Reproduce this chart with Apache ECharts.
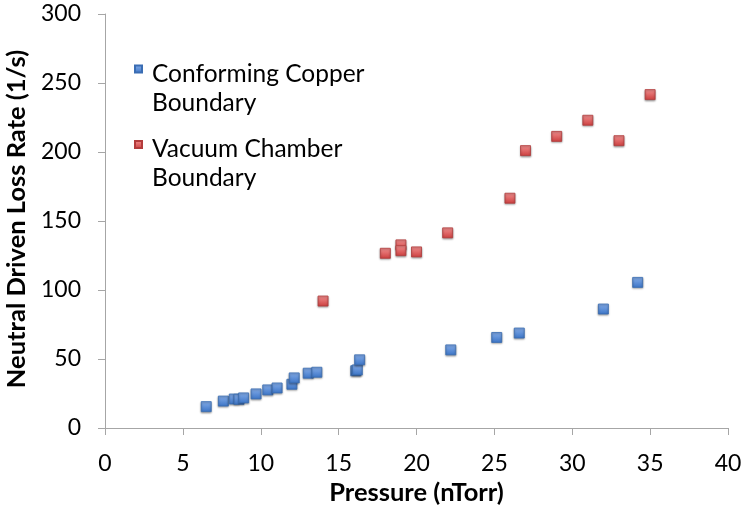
<!DOCTYPE html>
<html>
<head>
    <meta charset="utf-8" />
    <script src="https://cdn.jsdelivr.net/npm/echarts@6/dist/echarts.min.js"></script>
    <title></title>
    <style>
        html, body { margin: 0; padding: 0; background: #fff; }
    </style>
</head>
<body>
    <div id="main" style="width: 745px;height:508px;"></div>

    <script type="text/javascript">

        // pressure (nTorr) and loss rate (1/s)
        var copperX = [6.5, 7.6, 8.3, 8.6, 8.9, 9.7, 10.45, 11.05, 12.0, 12.15, 13.05, 13.6, 16.1, 16.2, 16.35, 22.2, 25.15, 26.6, 32.0, 34.2];
        var copperY = [15.5, 19.5, 21, 20.8, 21.8, 24.7, 27.6, 29, 31.7, 36.3, 39.7, 40.4, 41.5, 42.1, 49.4, 56.6, 65.6, 68.8, 86.2, 105.5];

        var chamberX = [14, 18, 19, 19, 20, 22, 26, 27, 29, 31, 33, 35];
        var chamberY = [92, 126.6, 132.7, 128.5, 127.6, 141.4, 166.5, 201, 211.3, 223, 208.2, 241.6];

        var seriesNames = ['Conforming Copper\nBoundary', 'Vacuum Chamber\nBoundary'];

        function pairs(xs, ys) {
            var out = [];
            for (var i = 0; i < xs.length; i++) {
                out.push([xs[i], ys[i]]);
            }
            return out;
        }

        var font = 'Lato, "Open Sans", sans-serif';

        var blueFill = new echarts.graphic.LinearGradient(0, 0, 0, 1, [
            { offset: 0, color: '#86aeea' },
            { offset: 1, color: '#3b74c6' }
        ]);
        var redFill = new echarts.graphic.LinearGradient(0, 0, 0, 1, [
            { offset: 0, color: '#f39090' },
            { offset: 1, color: '#cc3f3f' }
        ]);

        var myChart = echarts.init(document.getElementById('main'));

        myChart.setOption({
            animation: false,
            grid: { left: 105, right: 17, top: 14, bottom: 80, containLabel: false, outerBoundsMode: 'none' },
            legend: {
                orient: 'vertical',
                left: 134,
                top: 35,
                padding: 0,
                itemGap: -5,
                itemWidth: 7,
                itemHeight: 7,
                icon: 'rect',
                data: seriesNames,
                // spacer line on top so the icon sits near the first text line
                formatter: function (name) {
                    var lines = name.split('\n');
                    var out = '{s| }';
                    for (var i = 0; i < lines.length; i++) {
                        out += '\n{t|' + lines[i] + '}';
                    }
                    return out;
                },
                textStyle: {
                    fontFamily: font,
                    fontSize: 24,
                    color: '#000',
                    padding: [0, 0, 0, 5],
                    rich: {
                        s: { fontSize: 10, lineHeight: 39 },
                        t: { fontFamily: font, fontSize: 24.5, color: '#000', lineHeight: 29 }
                    }
                }
            },
            xAxis: {
                type: 'value',
                min: 0,
                max: 40,
                interval: 5,
                name: 'Pressure (nTorr)',
                nameLocation: 'middle',
                nameGap: 51,
                nameTextStyle: { fontFamily: font, fontSize: 25.5, fontWeight: 'bold', color: '#000' },
                splitLine: { show: false },
                axisLine: { lineStyle: { color: '#a6a6a6', width: 1 } },
                axisTick: { show: true, length: 7, lineStyle: { color: '#a6a6a6' } },
                axisLabel: { fontFamily: font, fontSize: 23, color: '#000', margin: 24 }
            },
            yAxis: {
                type: 'value',
                min: 0,
                max: 300,
                interval: 50,
                name: 'Neutral Driven Loss Rate (1/s)',
                nameLocation: 'middle',
                nameGap: 61,
                nameTextStyle: { fontFamily: font, fontSize: 25.5, fontWeight: 'bold', color: '#000', padding: [0, 0, 0, 4] },
                splitLine: { show: false },
                axisLine: { show: true, lineStyle: { color: '#a6a6a6', width: 1 } },
                axisTick: { show: true, length: 7, lineStyle: { color: '#a6a6a6' } },
                axisLabel: { fontFamily: font, fontSize: 23, color: '#000', margin: 24 }
            },
            series: [{
                name: seriesNames[0],
                type: 'scatter',
                symbol: 'rect',
                symbolSize: 10,
                data: pairs(copperX, copperY),
                itemStyle: {
                    color: blueFill,
                    borderColor: '#3a6db3',
                    borderWidth: 0.8,
                    opacity: 1,
                    shadowBlur: 2,
                    shadowColor: 'rgba(0,0,0,0.35)',
                    shadowOffsetY: 1
                }
            }, {
                name: seriesNames[1],
                type: 'scatter',
                symbol: 'rect',
                symbolSize: 10,
                data: pairs(chamberX, chamberY),
                itemStyle: {
                    color: redFill,
                    borderColor: '#b33c3c',
                    borderWidth: 0.8,
                    opacity: 1,
                    shadowBlur: 2,
                    shadowColor: 'rgba(0,0,0,0.35)',
                    shadowOffsetY: 1
                }
            }]
        });

    </script>
</body>
</html>
